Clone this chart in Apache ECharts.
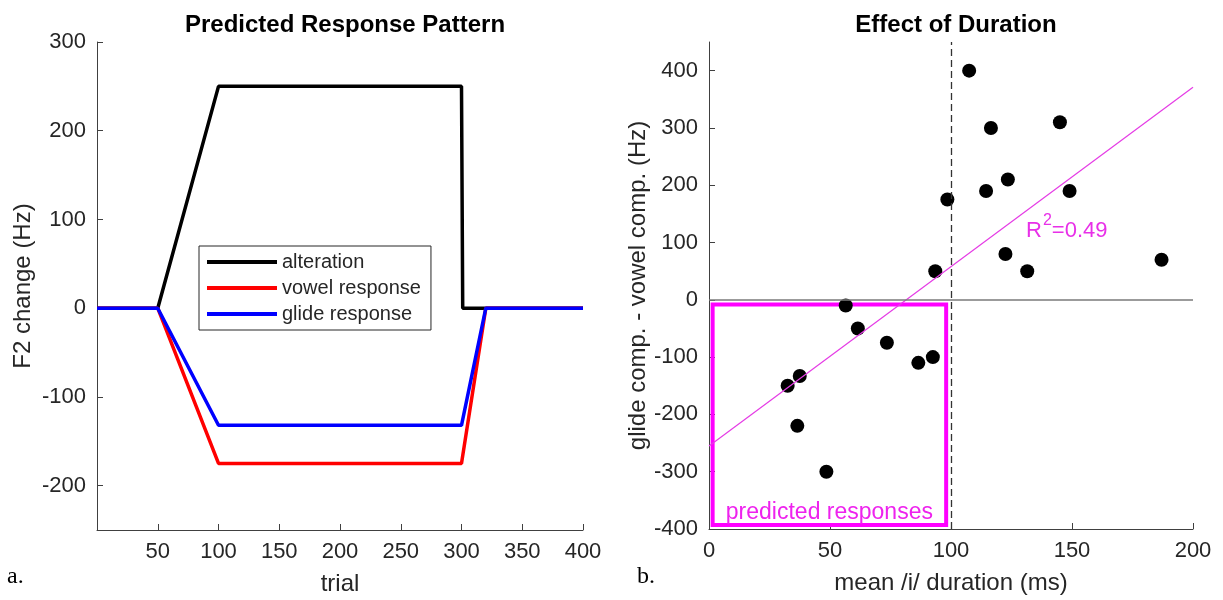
<!DOCTYPE html>
<html>
<head>
<meta charset="utf-8">
<title>Predicted Response Pattern / Effect of Duration</title>
<script src="https://cdn.jsdelivr.net/npm/echarts@6/dist/echarts.min.js"></script>
<style>
    html, body { margin: 0; padding: 0; background: #fff; }
    #main { width: 1223px; height: 600px; }
</style>
</head>
<body>
<div id="main"></div>
<script>
    // panel a: predicted response pattern
    var alterTrial = [0, 50, 100, 300, 301, 400];
    var alterHz = [0, 0, 250, 250, 0, 0];
    var respTrial = [0, 50, 100, 300, 320, 400];
    var vowelHz = [0, 0, -175, -175, 0, 0];
    var glideHz = [0, 0, -132, -132, 0, 0];
    var trialTicks = [50, 100, 150, 200, 250, 300, 350, 400];
    var hzTicks = [-200, -100, 0, 100, 200, 300];

    // panel b: effect of duration
    var durationMs = [107.5, 116.5, 145, 123.5, 114.5, 98.5, 149, 122.5, 131.5, 93.5, 187,
                      56.5, 61.5, 73.5, 86.5, 92.5, 37.5, 32.5, 36.5, 48.5];
    var diffHz = [400, 300, 310, 210, 190, 175, 190, 80, 50, 50, 70,
                  -10, -50, -75, -110, -100, -133, -150, -220, -300];
    var fitX = [0, 200];
    var fitY = [-255, 371];
    var diffTicks = [-400, -300, -200, -100, 0, 100, 200, 300, 400];
    var boxX = [1.5, 98];
    var boxY = [-8, -393];
    var r2Pos = [131, 120];

    var textCol = '#262626';
    var axisCol = '#404040';
    var font = 'Liberation Sans, Arial, sans-serif';

    function pairs(xs, ys) {
        return xs.map(function (x, i) { return [x, ys[i]]; });
    }

    function baseAxis(extra) {
        var ax = {
            type: 'value',
            splitLine: { show: false },
            axisLine: { show: true, onZero: false, lineStyle: { color: axisCol, width: 1 } },
            axisTick: { show: true, inside: true, length: 6, lineStyle: { color: axisCol } },
            axisLabel: { color: textCol, fontSize: 22, fontFamily: font, margin: 11 },
            nameLocation: 'middle',
            nameTextStyle: { color: textCol, fontSize: 24, fontFamily: font }
        };
        for (var k in extra) ax[k] = extra[k];
        return ax;
    }

    var chart = echarts.init(document.getElementById('main'));

    var xA = baseAxis({ gridIndex: 0, min: 0, max: 400, name: 'trial', nameGap: 42 });
    xA.axisLabel.customValues = trialTicks;
    xA.axisTick.customValues = trialTicks;

    var yA = baseAxis({ gridIndex: 0, min: -250, max: 300, name: 'F2 change (Hz)', nameGap: 62 });
    yA.axisLabel.customValues = hzTicks;
    yA.axisTick.customValues = hzTicks;

    var xB = baseAxis({ gridIndex: 1, min: 0, max: 200, interval: 50,
                        name: 'mean /i/ duration (ms)', nameGap: 42 });

    var yB = baseAxis({ gridIndex: 1, min: -400, max: 450,
                        name: 'glide comp. - vowel comp. (Hz)', nameGap: 58 });
    yB.axisLabel.customValues = diffTicks;
    yB.axisTick.customValues = diffTicks;

    var option = {
        animation: false,
        backgroundColor: '#fff',
        title: [
            { text: 'Predicted Response Pattern', left: 340, top: 8, textAlign: 'center',
              textStyle: { fontSize: 24, fontWeight: 'bold', color: '#000', fontFamily: font } },
            { text: 'Effect of Duration', left: 951, top: 8, textAlign: 'center',
              textStyle: { fontSize: 24, fontWeight: 'bold', color: '#000', fontFamily: font } }
        ],
        legend: {
            data: ['alteration', 'vowel response', 'glide response'],
            orient: 'vertical',
            left: 199,
            top: 246,
            padding: [6, 10, 6, 8],
            itemGap: 6,
            itemWidth: 70,
            itemHeight: 4,
            icon: 'rect',
            borderColor: '#262626',
            borderWidth: 1,
            backgroundColor: '#fff',
            textStyle: { color: textCol, fontSize: 20, fontFamily: font }
        },
        grid: [
            { left: 97, right: 640, top: 42, bottom: 70, outerBoundsMode: 'none' },
            { left: 709, right: 30, top: 42, bottom: 71, outerBoundsMode: 'none' }
        ],
        xAxis: [xA, xB],
        yAxis: [yA, yB],
        graphic: [
            { type: 'text', left: 7, top: 565,
              style: { text: 'a.', fontSize: 24, fontFamily: 'Liberation Serif, serif', fill: '#000' } },
            { type: 'text', left: 637, top: 565,
              style: { text: 'b.', fontSize: 24, fontFamily: 'Liberation Serif, serif', fill: '#000' } }
        ],
        series: [
            {
                name: 'alteration', type: 'line', xAxisIndex: 0, yAxisIndex: 0,
                data: pairs(alterTrial, alterHz), showSymbol: false,
                lineStyle: { color: '#000', width: 3.5 }, itemStyle: { color: '#000' }
            },
            {
                name: 'vowel response', type: 'line', xAxisIndex: 0, yAxisIndex: 0,
                data: pairs(respTrial, vowelHz), showSymbol: false,
                lineStyle: { color: '#ff0000', width: 3.5 }, itemStyle: { color: '#ff0000' }
            },
            {
                name: 'glide response', type: 'line', xAxisIndex: 0, yAxisIndex: 0,
                data: pairs(respTrial, glideHz), showSymbol: false,
                lineStyle: { color: '#0000ff', width: 3.5 }, itemStyle: { color: '#0000ff' }
            },
            {
                name: 'fit', type: 'line', xAxisIndex: 1, yAxisIndex: 1,
                data: pairs(fitX, fitY), showSymbol: false, silent: true,
                lineStyle: { color: '#e53ce5', width: 1.2 },
                markLine: {
                    silent: true, symbol: 'none', label: { show: false },
                    data: [
                        { yAxis: 0, lineStyle: { color: '#7a7a7a', width: 1.5, type: 'solid' } },
                        { xAxis: 100, lineStyle: { color: '#333', width: 1.3, type: [7, 4] } }
                    ]
                },
                markPoint: {
                    symbol: 'circle', symbolSize: 0,
                    data: [{ coord: r2Pos }],
                    label: {
                        show: true, position: 'right', distance: 0,
                        formatter: '{a|R}{s|2}{a|=0.49}',
                        rich: {
                            a: { color: '#e830e8', fontSize: 22, fontFamily: font },
                            s: { color: '#e830e8', fontSize: 16, fontFamily: font, padding: [0, 0, 20, 1] }
                        }
                    }
                }
            },
            {
                name: 'participants', type: 'scatter', xAxisIndex: 1, yAxisIndex: 1,
                data: pairs(durationMs, diffHz), symbolSize: 14,
                itemStyle: { color: '#000', opacity: 1 },
                markArea: {
                    silent: true,
                    itemStyle: { color: 'rgba(0,0,0,0)', borderColor: '#ff00ff', borderWidth: 4 },
                    label: {
                        show: true, position: 'insideBottom', distance: 3,
                        color: '#ee22ee', fontSize: 23, fontFamily: font
                    },
                    data: [[
                        { name: 'predicted responses', coord: [boxX[0], boxY[0]] },
                        { coord: [boxX[1], boxY[1]] }
                    ]]
                }
            }
        ]
    };

    chart.setOption(option);
</script>
</body>
</html>
